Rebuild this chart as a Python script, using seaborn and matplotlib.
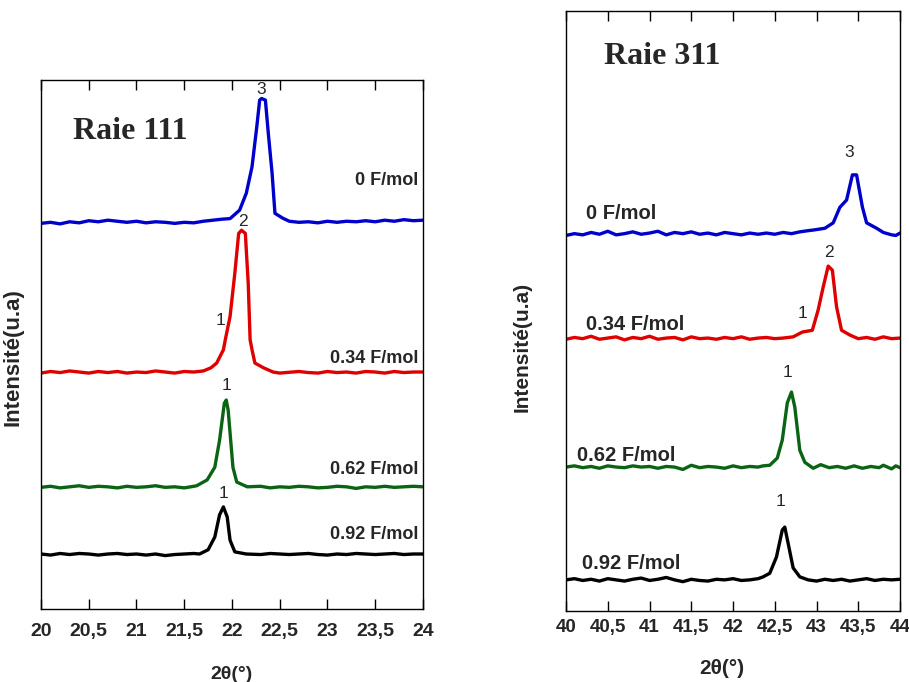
import matplotlib

matplotlib.use('Agg')
import matplotlib.pyplot as plt
import seaborn as sns

# ---------------- Raie 111 ----------------
x_base_l1 = [20.0, 20.1, 20.2, 20.3, 20.4, 20.5, 20.6, 20.7, 20.8, 20.9, 21.0, 21.1, 21.2, 21.3, 21.4, 21.5, 21.6]
x_base_r1 = [22.6, 22.7, 22.8, 22.9, 23.0, 23.1, 23.2, 23.3, 23.4, 23.5, 23.6, 23.7, 23.8, 23.9, 24.0]

blue111_x = x_base_l1 + [21.7, 21.8, 21.9, 21.98, 22.08, 22.15, 22.21, 22.26, 22.29, 22.31, 22.35, 22.38,
                         22.42, 22.45, 22.53] + x_base_r1
blue111_y = [72.9, 73.1, 72.8, 73.2, 73.0, 73.4, 73.2, 73.5, 73.3, 73.1, 73.3, 73.0, 73.2, 73.1, 72.9, 73.1, 73.0,
             73.3, 73.5, 73.7, 73.8, 75.4, 78.6, 83.6, 91.2, 96.2, 96.5, 96.2, 90.0,
             82.4, 74.8, 73.9,
             73.3, 73.1, 73.2, 73.0, 73.3, 73.1, 73.3, 73.2, 73.4, 73.2, 73.5, 73.3, 73.6, 73.4, 73.5]

red111_x = x_base_l1 + [21.7, 21.78, 21.84, 21.91, 21.93, 21.98, 22.03, 22.07, 22.10, 22.14, 22.17, 22.19,
                        22.21, 22.24, 22.33, 22.43, 22.5] + x_base_r1[1:]
red111_y = [44.6, 44.9, 44.7, 45.0, 44.8, 44.6, 44.9, 44.7, 44.9, 44.6, 44.8, 44.7, 45.0, 44.8, 44.6, 44.9, 44.8,
            45.0, 45.6, 46.5, 49.0, 50.9, 55.3, 63.5, 71.0, 71.6, 71.0, 61.6, 50.9,
            49.0, 46.5, 45.6, 44.8, 44.6,
            44.9, 44.7, 44.6, 44.9, 44.7, 44.8, 44.6, 44.9, 44.8, 44.6, 44.9, 44.7, 44.8, 44.8]

green111_x = x_base_l1 + [21.63, 21.74, 21.82, 21.87, 21.92, 21.94, 21.96, 22.01, 22.05, 22.16, 22.3, 22.4,
                          22.5] + x_base_r1
green111_y = [23.0, 23.2, 22.9, 23.1, 23.3, 23.0, 23.2, 23.1, 22.9, 23.2, 23.0, 23.1, 23.3, 23.0, 23.1, 22.9, 23.2,
              23.3, 24.4, 26.8, 31.9, 38.9, 39.5, 37.6, 26.8, 24.0, 23.1, 23.2, 22.9,
              23.1,
              23.0, 23.2, 23.1, 22.9, 23.0, 23.2, 23.1, 22.8, 23.1, 23.0, 23.2, 23.0, 23.1, 23.2, 23.1]

black111_x = x_base_l1 + [21.66, 21.75, 21.82, 21.87, 21.91, 21.95, 21.98, 22.03, 22.15, 22.3, 22.4,
                          22.5] + x_base_r1
black111_y = [10.4, 10.2, 10.5, 10.3, 10.5, 10.4, 10.2, 10.4, 10.5, 10.3, 10.4, 10.2, 10.4, 10.1, 10.3, 10.4, 10.5,
              10.4, 11.2, 13.6, 17.8, 19.3, 17.4, 13.0, 10.8, 10.4, 10.3, 10.5,
              10.4,
              10.3, 10.4, 10.5, 10.3, 10.2, 10.4, 10.3, 10.5, 10.4, 10.3, 10.4, 10.5, 10.3, 10.4, 10.4]

# ---------------- Raie 311 ----------------
x_base_l3 = [40.0, 40.1, 40.2, 40.3, 40.4, 40.5, 40.6, 40.7, 40.8, 40.9, 41.0, 41.1, 41.2, 41.3, 41.4,
             41.5, 41.6, 41.7, 41.8, 41.9, 42.0, 42.1, 42.2, 42.3]

blue311_x = x_base_l3 + [42.4, 42.5, 42.6, 42.7, 42.8, 42.9, 42.96, 43.1, 43.2, 43.28, 43.36, 43.43, 43.48, 43.55,
                         43.6, 43.72, 43.8, 43.9, 43.95, 44.0]
blue311_y = [62.6, 62.9, 62.7, 63.1, 62.8, 63.3, 62.7, 62.9, 63.2, 62.8, 63.0, 63.3, 62.7, 63.1, 62.9,
             63.2, 62.8, 63.0, 62.7, 63.1, 62.9, 62.7, 63.0, 62.8,
             63.0, 62.8, 63.1, 62.9, 63.2, 63.4, 63.5, 63.8, 64.7, 67.3, 68.5, 72.7, 72.7, 67.3,
             64.7, 63.8, 63.1, 62.7, 62.6, 63.0]

red311_x = x_base_l3 + [42.4, 42.5, 42.6, 42.72, 42.83, 42.95, 43.02, 43.08, 43.14, 43.19, 43.24, 43.30, 43.40,
                        43.5, 43.6, 43.7, 43.8, 43.9, 44.0]
red311_y = [45.3, 45.6, 45.4, 45.8, 45.3, 45.5, 45.7, 45.2, 45.6, 45.4, 45.8, 45.3, 45.5, 45.6, 45.2,
            45.7, 45.4, 45.5, 45.3, 45.6, 45.4, 45.7, 45.3, 45.5,
            45.6, 45.4, 45.5, 45.7, 46.5, 46.8, 50.2, 54.0, 57.5, 56.8, 50.7, 46.8, 46.0,
            45.4, 45.6, 45.3, 45.7, 45.4, 45.5]

green311_x = x_base_l3 + [42.36, 42.44, 42.53, 42.59, 42.65, 42.70, 42.74, 42.80, 42.86, 42.96, 43.05, 43.15,
                          43.25, 43.35, 43.45, 43.55, 43.65, 43.75, 43.8, 43.9, 43.95, 44.0]
green311_y = [24.0, 24.2, 23.9, 24.1, 23.8, 24.2, 24.0, 23.9, 24.2, 24.0, 24.1, 23.8, 24.1, 24.0, 23.6,
              24.3, 23.9, 24.1, 24.0, 23.8, 24.2, 23.9, 24.1, 24.0,
              24.2, 24.3, 25.5, 28.5, 34.7, 36.5, 34.0, 26.8, 24.8, 23.8, 24.4, 23.9,
              24.1, 23.8, 24.2, 23.8, 24.1, 23.9, 24.3, 23.7, 24.2, 23.9]

black311_x = x_base_l3 + [42.36, 42.44, 42.52, 42.59, 42.62, 42.66, 42.72, 42.80, 42.9, 43.0, 43.1, 43.2,
                          43.3, 43.4, 43.5, 43.6, 43.7, 43.8, 43.9, 44.0]
black311_y = [5.2, 5.4, 5.1, 5.3, 5.0, 5.4, 5.2, 5.0, 5.3, 5.5, 5.1, 5.3, 5.6, 5.2, 4.9,
              5.3, 5.1, 5.0, 5.3, 5.2, 5.4, 5.1, 5.2, 5.4,
              5.7, 6.3, 9.0, 13.5, 14.0, 11.3, 7.2, 5.7, 5.2, 5.0, 5.3, 5.1,
              5.3, 5.0, 5.2, 5.4, 5.1, 5.3, 5.2, 5.3]

colors = ['#0000cc', '#e00000', '#0a6414', '#000000']
labels = ['0 F/mol', '0.34 F/mol', '0.62 F/mol', '0.92 F/mol']
ticks_111 = [20, 20.5, 21, 21.5, 22, 22.5, 23, 23.5, 24]
ticks_311 = [40, 40.5, 41, 41.5, 42, 42.5, 43, 43.5, 44]

sns.set_theme(style='white')
plt.rcParams['font.family'] = ['Liberation Sans', 'DejaVu Sans']

fig = plt.figure(figsize=(9.09, 6.82), dpi=100)
ax1 = fig.add_axes([0.0451, 0.107, 0.4202, 0.7757])
ax2 = fig.add_axes([0.6227, 0.104, 0.3674, 0.8798])

series_111 = [(blue111_x, blue111_y), (red111_x, red111_y), (green111_x, green111_y), (black111_x, black111_y)]
series_311 = [(blue311_x, blue311_y), (red311_x, red311_y), (green311_x, green311_y), (black311_x, black311_y)]

for (xs, ys), c in zip(series_111, colors):
    sns.lineplot(x=xs, y=ys, ax=ax1, color=c, lw=2.4)
for (xs, ys), c in zip(series_311, colors):
    sns.lineplot(x=xs, y=ys, ax=ax2, color=c, lw=2.4)

# --- étiquettes des courbes ---
for lab, yy in zip(labels, [81.0, 47.3, 26.3, 14.0]):
    ax1.text(23.95, yy, lab, ha='right', va='center', fontsize=13, fontweight='bold')
for lab, xx, yy in zip(labels, [40.24, 40.24, 40.13, 40.19], [66.3, 47.7, 26.0, 8.0]):
    ax2.text(xx, yy, lab, ha='left', va='center', fontsize=14.5, fontweight='bold')

# --- numéros des pics ---
for xx, yy, t in [(22.31, 98.2, '3'), (22.12, 73.2, '2'), (21.88, 54.5, '1'), (21.94, 42.3, '1'), (21.91, 21.8, '1')]:
    ax1.text(xx, yy, t, ha='center', va='center', fontsize=12.5)
for xx, yy, t in [(43.39, 76.5, '3'), (43.15, 59.7, '2'), (42.83, 49.6, '1'), (42.65, 39.7, '1'), (42.57, 18.2, '1')]:
    ax2.text(xx, yy, t, ha='center', va='center', fontsize=12.5)

ax1.text(20.33, 90.3, 'Raie 111', fontsize=23, fontweight='bold', family='Liberation Serif', va='center')
ax2.text(40.45, 92.5, 'Raie 311', fontsize=23, fontweight='bold', family='Liberation Serif', va='center')

for ax, ticks, fs in [(ax1, ticks_111, 14), (ax2, ticks_311, 13.5)]:
    ax.set_xlim(ticks[0], ticks[-1])
    ax.set_ylim(0, 100)
    ax.set_xticks(ticks)
    ax.set_xticklabels([f'{t:g}'.replace('.', ',') for t in ticks], fontsize=fs, fontweight='bold')
    ax.set_yticks([])
    ax.tick_params(axis='x', direction='in', length=7, width=1, top=True, bottom=True, color='black')
    for s in ax.spines.values():
        s.set_color('black')
        s.set_linewidth(1)

ax1.set_ylabel('Intensité(u.a)', fontsize=16, fontweight='bold')
ax2.set_ylabel('Intensité(u.a)', fontsize=15, fontweight='bold')
ax1.set_xlabel('2θ(°)', fontsize=14, fontweight='bold')
ax2.set_xlabel('2θ(°)', fontsize=15, fontweight='bold')

ax1.tick_params(axis='x', pad=10)
ax2.tick_params(axis='x', pad=6)
ax1.yaxis.set_label_coords(-0.045, 0.476)
ax2.yaxis.set_label_coords(-0.102, 0.44)
ax1.xaxis.set_label_coords(0.5, -0.108)
ax2.xaxis.set_label_coords(0.467, -0.08)

plt.savefig('out.png', dpi=100)
plt.close()
